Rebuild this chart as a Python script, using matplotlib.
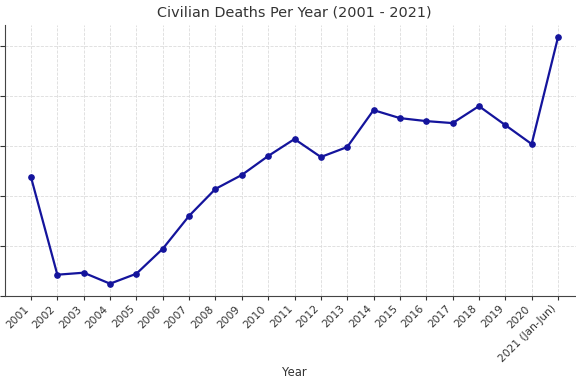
import matplotlib
matplotlib.use("Agg")
import matplotlib.pyplot as plt

years = ["2001", "2002", "2003", "2004", "2005", "2006", "2007", "2008", "2009",
         "2010", "2011", "2012", "2013", "2014", "2015", "2016", "2017", "2018",
         "2019", "2020", "2021 (Jan-Jun)"]
deaths = [2375, 420, 460, 240, 440, 940, 1600, 2140, 2420, 2800, 3140, 2780,
          2980, 3720, 3560, 3500, 3460, 3800, 3420, 3040, 5180]

fig = plt.figure(figsize=(5.76, 3.84), dpi=100)
ax = fig.add_axes([4.65 / 576, 88 / 384, 579.7 / 576, 271 / 384])

x = list(range(len(years)))
ax.plot(x, deaths, color="#14149c", marker="o", markersize=3.8, linewidth=1.6)
ax.set_xlim(-1, 21)
ax.set_ylim(-7, 5427)
ax.set_xticks(x)
ax.set_xticklabels(years, rotation=45, ha="right", fontsize=7.7, color="#333333")
ax.set_yticks([0, 1000, 2000, 3000, 4000, 5000])
ax.tick_params(axis="y", labelsize=7.7, colors="#333333")
ax.tick_params(axis="x", colors="#333333", length=3, pad=2.5)
ax.grid(True, color="#dcdcdc", linestyle="--", linewidth=0.6)
ax.set_axisbelow(True)
for s in ["top", "right"]:
    ax.spines[s].set_visible(False)
for s in ["left", "bottom"]:
    ax.spines[s].set_color("#444444")
ax.set_title("Civilian Deaths Per Year (2001 - 2021)", fontsize=10.4, color="#333333", pad=6)
ax.set_xlabel("Year", fontsize=8.4, color="#333333", labelpad=1)
ax.set_ylabel("Civilian Deaths", fontsize=8.4)

fig.savefig("out.png", dpi=100)
